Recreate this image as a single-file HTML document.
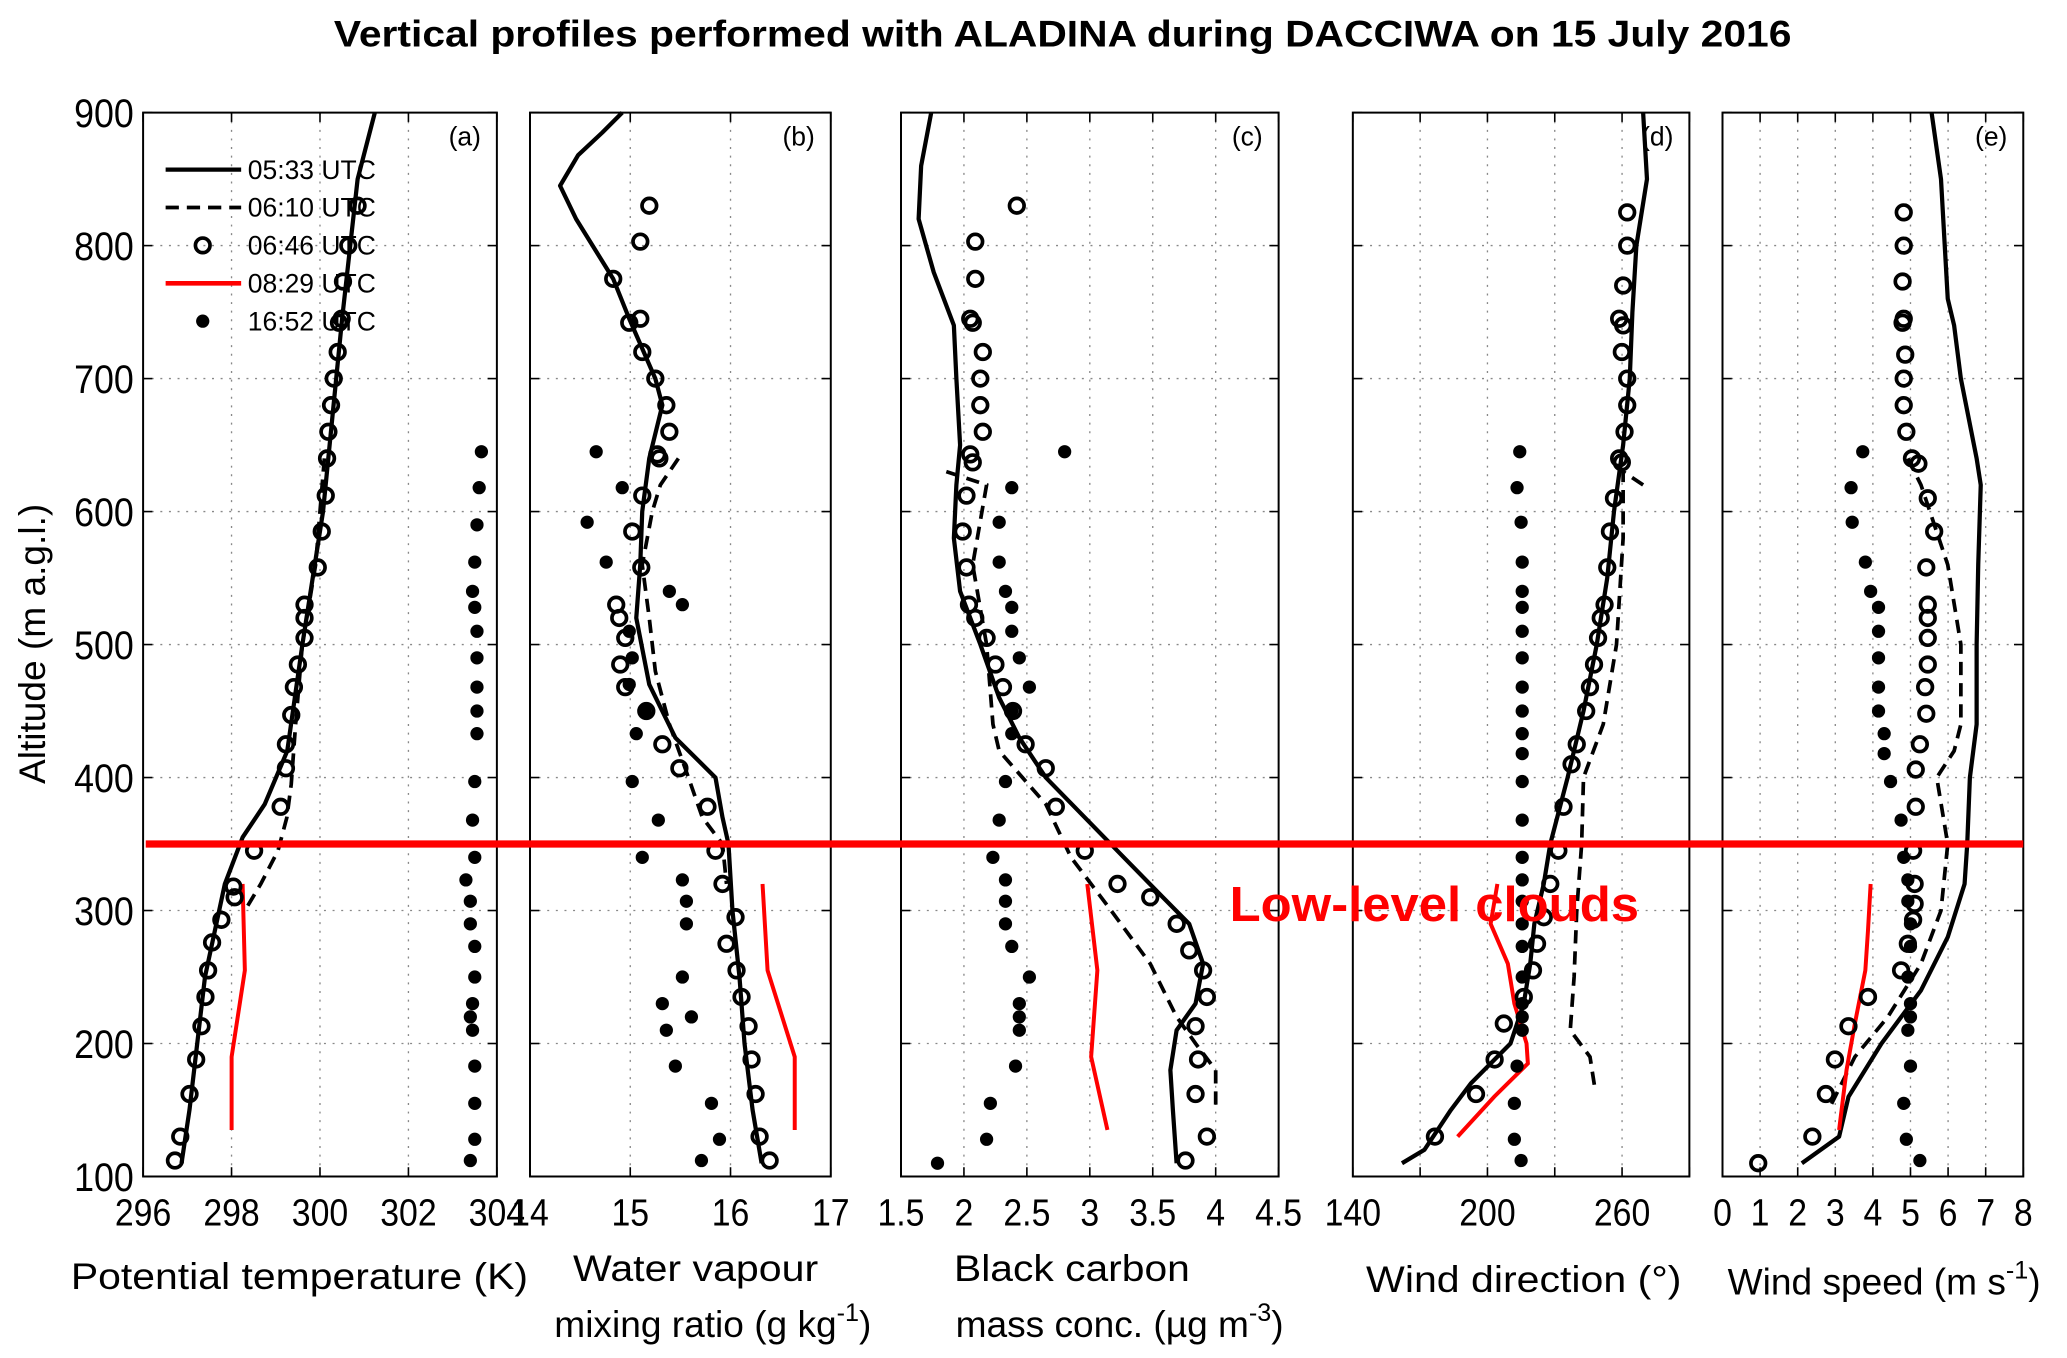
<!DOCTYPE html>
<html><head><meta charset="utf-8"><style>
html,body{margin:0;padding:0;background:#fff}
svg{display:block}
text{font-family:"Liberation Sans",Arial,sans-serif}
</style></head><body>
<svg id="fig" width="2067" height="1358" viewBox="0 0 1560 1025" preserveAspectRatio="none" xmlns="http://www.w3.org/2000/svg">
<rect width="1560" height="1025" fill="#fff"/>
<text x="802" y="35" text-anchor="middle" font-size="28" font-weight="bold" textLength="1100" lengthAdjust="spacingAndGlyphs">Vertical profiles performed with ALADINA during DACCIWA on 15 July 2016</text>
<text transform="translate(34,486) rotate(-90)" text-anchor="middle" font-size="28">Altitude (m a.g.l.)</text>
<g id="plots"></g>
<text x="226" y="973" text-anchor="middle" font-size="28" textLength="345" lengthAdjust="spacingAndGlyphs">Potential temperature (K)</text>
<text x="525" y="967" text-anchor="middle" font-size="28" textLength="185" lengthAdjust="spacingAndGlyphs">Water vapour</text>
<text x="538" y="1009" text-anchor="middle" font-size="28">mixing ratio (g kg<tspan dy="-12" font-size="19">-1</tspan><tspan dy="12">)</tspan></text>
<text x="809" y="967" text-anchor="middle" font-size="28" textLength="178" lengthAdjust="spacingAndGlyphs">Black carbon</text>
<text x="845" y="1009" text-anchor="middle" font-size="28">mass conc. (µg m<tspan dy="-12" font-size="19">-3</tspan><tspan dy="12">)</tspan></text>
<text x="1150" y="975" text-anchor="middle" font-size="28" textLength="238" lengthAdjust="spacingAndGlyphs">Wind direction (°)</text>
<text x="1422" y="977" text-anchor="middle" font-size="28">Wind speed (m s<tspan dy="-12" font-size="19">-1</tspan><tspan dy="12">)</tspan></text>
</svg>
<script>
// ---- data: [altitude m, value] ----
const altTicks=[100,200,300,400,500,600,700,800,900];
const aSolid=[[900,301.24],[850,300.85],[745,300.5],[600,300.07],[500,299.6],[420,299.26],[380,298.75],[355,298.25],[320,297.85],[250,297.4],[150,297.05],[110,296.87]];
const aDashed=[[640,300.1],[560,299.9],[500,299.6],[440,299.45],[395,299.35],[370,299.25],[345,299.05],[320,298.66],[300,298.3]];
const aOpen=[[830,300.85],[800,300.64],[773,300.52],[745,300.49],[742,300.43],[720,300.4],[700,300.31],[680,300.25],[660,300.19],[640,300.16],[612,300.13],[585,300.04],[558,299.95],[530,299.65],[520,299.65],[505,299.65],[485,299.5],[468,299.41],[447,299.35],[425,299.23],[407,299.23],[378,299.11],[345,298.51],[318,298.04],[310,298.07],[293,297.77],[276,297.56],[255,297.47],[235,297.41],[213,297.32],[188,297.2],[162,297.05],[130,296.84],[112,296.72]];
const aRed=[[320,298.25],[255,298.3],[190,298.0],[135,298.0]];
const aDots=[[645,303.65],[618,303.6],[590,303.55],[562,303.5],[540,303.45],[528,303.5],[510,303.55],[490,303.55],[468,303.55],[450,303.55],[433,303.55],[397,303.5],[368,303.45],[340,303.5],[323,303.3],[307,303.4],[290,303.4],[273,303.5],[250,303.5],[230,303.45],[220,303.4],[210,303.45],[183,303.5],[155,303.5],[128,303.5],[112,303.4]];

const bSolid=[[900,14.92],[885,14.72],[868,14.48],[845,14.3],[820,14.46],[775,14.83],[745,14.99],[700,15.25],[680,15.32],[640,15.19],[600,15.12],[560,15.1],[520,15.06],[470,15.19],[430,15.45],[400,15.85],[370,15.92],[350,15.98],[300,16.02],[250,16.09],[200,16.14],[150,16.22],[110,16.31]];
const bDashed=[[640,15.48],[620,15.3],[600,15.22],[560,15.12],[520,15.19],[480,15.25],[440,15.39],[400,15.58],[370,15.72],[350,15.92],[320,15.96]];
const bOpen=[[830,15.19],[803,15.1],[775,14.83],[745,15.1],[742,14.99],[720,15.12],[700,15.25],[680,15.36],[660,15.39],[643,15.27],[640,15.29],[612,15.12],[585,15.02],[558,15.11],[530,14.86],[520,14.89],[505,14.95],[485,14.9],[468,14.95],[450,15.16],[425,15.32],[407,15.49],[378,15.77],[345,15.85],[320,15.92],[295,16.05],[275,15.96],[255,16.06],[235,16.11],[213,16.18],[188,16.21],[162,16.25],[130,16.29],[112,16.39]];
const bRed=[[320,16.32],[255,16.37],[190,16.64],[135,16.64]];
const bDots=[[645,14.66],[618,14.92],[592,14.57],[562,14.76],[540,15.39],[530,15.52],[510,14.99],[490,15.02],[470,14.99],[450,15.15],[433,15.06],[397,15.02],[368,15.28],[340,15.12],[323,15.52],[307,15.56],[290,15.56],[250,15.52],[230,15.32],[220,15.61],[210,15.36],[183,15.45],[155,15.81],[128,15.89],[112,15.71]];

const cSolid=[[900,1.74],[860,1.66],[820,1.64],[780,1.76],[740,1.92],[700,1.94],[650,1.97],[620,1.94],[580,1.92],[540,1.97],[500,2.13],[460,2.28],[430,2.44],[400,2.65],[370,2.96],[340,3.27],[310,3.58],[290,3.79],[260,3.9],[230,3.84],[210,3.69],[180,3.64],[150,3.66],[110,3.69]];
const cDashed=[[630,1.86],[620,2.18],[560,2.07],[500,2.18],[440,2.23],[420,2.28],[380,2.65],[340,2.85],[300,3.17],[260,3.48],[220,3.69],[200,3.84],[180,4.0],[150,4.0]];
const cOpen=[[830,2.42],[803,2.09],[775,2.09],[745,2.05],[742,2.07],[720,2.15],[700,2.13],[680,2.13],[660,2.15],[643,2.05],[637,2.07],[612,2.02],[585,1.99],[558,2.02],[530,2.04],[520,2.09],[505,2.18],[485,2.25],[468,2.31],[450,2.39],[425,2.49],[407,2.65],[378,2.73],[345,2.96],[320,3.22],[310,3.48],[290,3.69],[270,3.79],[255,3.9],[235,3.93],[213,3.84],[188,3.86],[162,3.84],[130,3.93],[112,3.76]];
const cRed=[[320,2.98],[255,3.06],[190,3.01],[135,3.14]];
const cDots=[[645,2.8],[618,2.38],[592,2.28],[562,2.28],[540,2.33],[528,2.38],[510,2.38],[490,2.44],[468,2.52],[450,2.38],[433,2.38],[397,2.33],[368,2.28],[340,2.23],[323,2.33],[307,2.33],[290,2.33],[273,2.38],[250,2.52],[230,2.44],[220,2.44],[210,2.44],[183,2.41],[155,2.21],[128,2.18],[110,1.79]];

const dSolid=[[900,269.4],[850,271.1],[800,266.4],[750,264.6],[700,263.4],[650,260.5],[600,256.4],[550,253.4],[500,248.7],[450,242.8],[400,235.7],[350,228.0],[320,225.1],[290,220.9],[260,219.1],[230,216.2],[200,210.3],[170,192.6],[150,183.7],[120,171.9],[110,161.9]];
const dDashed=[[620,269.4],[630,260.5],[580,260.5],[500,257.5],[440,251.6],[400,242.8],[350,242.0],[300,239.8],[250,238.6],[210,236.9],[190,245.7],[165,248.0]];
const dOpen=[[825,262.3],[800,262.3],[770,260.5],[745,258.7],[740,260.5],[720,259.9],[700,262.3],[680,262.3],[660,261.1],[640,258.7],[637,259.9],[610,256.4],[585,254.6],[558,253.4],[530,252.2],[520,250.5],[505,249.3],[485,247.5],[468,245.7],[450,244.0],[425,239.8],[410,237.5],[378,233.9],[345,231.6],[320,228.0],[295,225.1],[275,222.1],[255,220.3],[235,216.2],[215,207.3],[188,203.2],[162,194.9],[130,176.6]];
const dRed=[[320,204.4],[290,201.4],[260,209.1],[230,212.0],[200,217.4],[185,218.0],[160,203.0],[130,186.7]];
const dDots=[[645,214.4],[618,213.2],[592,215],[562,215.5],[540,215.5],[528,215.5],[510,215.5],[490,215.5],[468,215.5],[450,215.5],[433,215.5],[418,215.5],[397,215.5],[368,215.5],[340,215.5],[323,215.5],[307,215.5],[290,215.5],[273,215.5],[250,215.5],[230,215.5],[220,215.5],[210,215.5],[183,213.2],[155,212.0],[128,212.0],[112,215]];

const eSolid=[[900,5.56],[850,5.81],[760,5.99],[740,6.16],[700,6.34],[640,6.76],[620,6.87],[560,6.8],[500,6.76],[440,6.76],[400,6.58],[350,6.51],[320,6.44],[280,5.99],[240,5.28],[200,4.23],[160,3.35],[130,3.1],[110,2.11]];
const eDashed=[[640,4.93],[620,5.28],[560,5.99],[500,6.34],[440,6.34],[420,6.16],[400,5.7],[350,5.99],[300,5.81],[260,5.28],[220,4.4],[190,3.52],[150,2.82]];
const eOpen=[[825,4.82],[800,4.82],[773,4.79],[745,4.82],[742,4.79],[718,4.86],[700,4.82],[680,4.82],[660,4.89],[640,5.04],[636,5.21],[610,5.46],[585,5.63],[558,5.42],[530,5.46],[520,5.46],[505,5.46],[485,5.46],[468,5.39],[448,5.42],[425,5.25],[406,5.14],[378,5.14],[345,5.07],[320,5.11],[305,5.11],[293,5.07],[275,4.93],[255,4.75],[235,3.87],[213,3.35],[188,2.99],[162,2.75],[130,2.39],[110,0.95]];
const eRed=[[320,3.94],[285,3.87],[255,3.8],[215,3.52],[180,3.3],[135,3.1]];
const eDots=[[645,3.73],[618,3.42],[592,3.45],[562,3.8],[540,3.94],[528,4.15],[510,4.15],[490,4.15],[468,4.15],[450,4.15],[433,4.3],[418,4.3],[397,4.47],[368,4.75],[340,4.82],[323,4.93],[307,4.93],[290,5.0],[273,5.0],[250,4.93],[230,5.0],[220,5.0],[210,4.93],[183,5.0],[155,4.82],[128,4.89],[112,5.25]];

// ---- layout ----
const NS='http://www.w3.org/2000/svg';
const Y0=85,Y1=888;
function yScale(a){return Y1-(a-100)/800*(Y1-Y0);}
const panels=[
 {id:'a',x0:108,x1:375,min:296,max:304,ticks:[296,298,300,302,304],labels:['296','298','300','302','304'],s:[aSolid,aDashed,aOpen,aRed,aDots]},
 {id:'b',x0:400,x1:627,min:14,max:17,ticks:[14,15,16,17],labels:['14','15','16','17'],s:[bSolid,bDashed,bOpen,bRed,bDots]},
 {id:'c',x0:680,x1:965,min:1.5,max:4.5,ticks:[1.5,2,2.5,3,3.5,4,4.5],labels:['1.5','2','2.5','3','3.5','4','4.5'],s:[cSolid,cDashed,cOpen,cRed,cDots]},
 {id:'d',x0:1021,x1:1275,min:140,max:290,ticks:[140,170,200,230,260,290],labels:['140','','200','','260',''],s:[dSolid,dDashed,dOpen,dRed,dDots]},
 {id:'e',x0:1300,x1:1527,min:0,max:8,ticks:[0,1,2,3,4,5,6,7,8],labels:['0','1','2','3','4','5','6','7','8'],s:[eSolid,eDashed,eOpen,eRed,eDots]}
];
const root=document.getElementById('plots');
function mk(tag,attrs,parent){const e=document.createElementNS(NS,tag);for(const k in attrs)e.setAttribute(k,attrs[k]);(parent||root).appendChild(e);return e;}
panels.forEach(p=>{
 const g=mk('g',{});
 
 
 const xs=v=>p.x0+(v-p.min)/(p.max-p.min)*(p.x1-p.x0);
 p.ticks.forEach((t,i)=>{
  const x=xs(t);
  if(i>0&&i<p.ticks.length-1){const l=mk('line',{x1:x,x2:x,y1:Y0,y2:Y1,stroke:'#888','stroke-width':1,'stroke-dasharray':'1.5 5'},g);
   }
  mk('line',{x1:x,x2:x,y1:Y1,y2:Y1-7,stroke:'#000','stroke-width':1.2},g);
  mk('line',{x1:x,x2:x,y1:Y0,y2:Y0+7,stroke:'#000','stroke-width':1.2},g);
  if(p.labels[i]){const tx=mk('text',{x:x,y:925,'text-anchor':'middle','font-size':29},g);tx.textContent=p.labels[i];
   tx.setAttribute('transform','translate('+x+',0) scale(0.88,1) translate('+(-x)+',0)');
   }
 });
 altTicks.forEach((a,i)=>{
  const y=yScale(a);
  if(i>0&&i<altTicks.length-1){const l=mk('line',{x1:p.x0,x2:p.x1,y1:y,y2:y,stroke:'#888','stroke-width':1,'stroke-dasharray':'1.5 5'},g);
   }
  mk('line',{x1:p.x0,x2:p.x0+7,y1:y,y2:y,stroke:'#000','stroke-width':1.2},g);
  mk('line',{x1:p.x1,x2:p.x1-7,y1:y,y2:y,stroke:'#000','stroke-width':1.2},g);
  if(p.id==='a'){const tx=mk('text',{x:101,y:y+11,'text-anchor':'end','font-size':30},g);tx.textContent=a;
   tx.setAttribute('transform','translate(101,0) scale(0.9,1) translate(-101,0)');
   }
 });
 const box=mk('rect',{x:p.x0,y:Y0,width:p.x1-p.x0,height:Y1-Y0,fill:'none',stroke:'#000','stroke-width':1.5},g);
 
 const pl=mk('text',{x:p.x1-12,y:110,'text-anchor':'end','font-size':20},g);pl.textContent='('+p.id+')';
 
 const pts=arr=>arr.map(d=>xs(d[1]).toFixed(1)+','+yScale(d[0]).toFixed(1)).join(' ');
 const s1=mk('polyline',{points:pts(p.s[0]),fill:'none',stroke:'#000','stroke-width':3.2,'stroke-linejoin':'round'},g);
 
 const s2=mk('polyline',{points:pts(p.s[1]),fill:'none',stroke:'#000','stroke-width':2.8,'stroke-dasharray':'10 6'},g);
 
 const s4=mk('polyline',{points:pts(p.s[3]),fill:'none',stroke:'#f00','stroke-width':3},g);
 
 p.s[2].forEach(d=>{const c=mk('circle',{cx:xs(d[1]),cy:yScale(d[0]),r:5.5,fill:'none',stroke:'#000','stroke-width':2.8},g);
  });
 p.s[4].forEach(d=>{const c=mk('circle',{cx:xs(d[1]),cy:yScale(d[0]),r:5,fill:'#000'},g);
  });
});
const lg=mk('g',{});


const legNames=['05:33 UTC','06:10 UTC','06:46 UTC','08:29 UTC','16:52 UTC'];
legNames.forEach((n,i)=>{
 const y=128+i*28.6;
 if(i===0)mk('line',{x1:125,x2:182,y1:y,y2:y,stroke:'#000','stroke-width':3.2},lg);
 if(i===1)mk('line',{x1:125,x2:182,y1:y,y2:y,stroke:'#000','stroke-width':2.8,'stroke-dasharray':'10 6'},lg);
 if(i===2)mk('circle',{cx:153,cy:y,r:5.5,fill:'none',stroke:'#000','stroke-width':2.8},lg);
 if(i===3)mk('line',{x1:125,x2:182,y1:y,y2:y,stroke:'#f00','stroke-width':3.5},lg);
 if(i===4)mk('circle',{cx:153,cy:y,r:5,fill:'#000'},lg);
 const t=mk('text',{x:187,y:y+7,'font-size':20},lg);t.textContent=n;
 
 
});
const cl=mk('line',{x1:110,x2:1527,y1:yScale(350),y2:yScale(350),stroke:'#f00','stroke-width':5.5});


const ct=mk('text',{x:928,y:695,'font-size':37,'font-weight':'bold',fill:'#f00',textLength:309,lengthAdjust:'spacingAndGlyphs'});
ct.textContent='Low-level clouds';


</script>
</body></html>
